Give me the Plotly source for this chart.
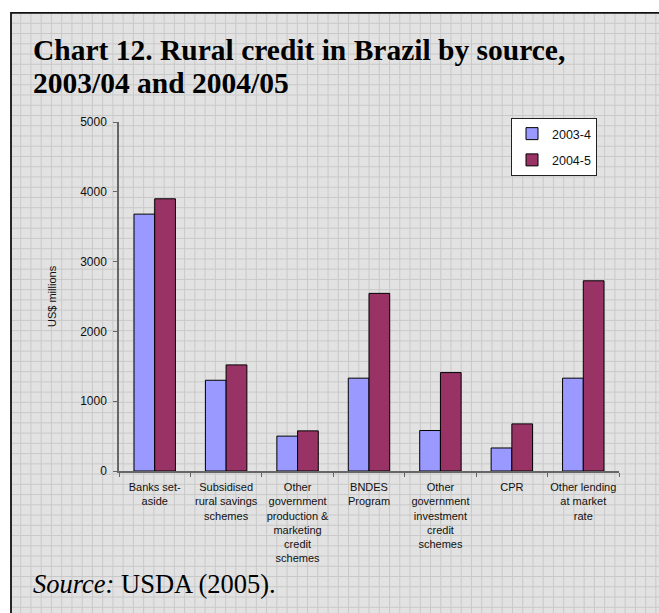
import plotly.graph_objects as go

categories = [
    "Banks set-<br>aside",
    "Subsidised<br>rural savings<br>schemes",
    "Other<br>government<br>production &<br>marketing<br>credit<br>schemes",
    "BNDES<br>Program",
    "Other<br>government<br>investment<br>credit<br>schemes",
    "CPR",
    "Other lending<br>at market<br>rate",
]
series_names = ["2003-4", "2004-5"]
values_2003_4 = [3680, 1300, 500, 1330, 580, 330, 1330]
values_2004_5 = [3900, 1520, 575, 2545, 1410, 675, 2725]
y_ticks = [0, 1000, 2000, 3000, 4000, 5000]

W, H = 659, 613
L, R, T, B = 119, 40, 122, 142
PW, PH = W - L - R, H - T - B

def px(x):
    return (x - L) / PW

def py(y):
    return (H - B - y) / PH

fig = go.Figure()
fig.add_trace(go.Bar(name=series_names[0], x=categories, y=values_2003_4,
                     marker=dict(color="#9999FF", line=dict(color="#000000", width=1)),
                     legendgroup="a"))
fig.add_trace(go.Bar(name=series_names[1], x=categories, y=values_2004_5,
                     marker=dict(color="#993366", line=dict(color="#000000", width=1)),
                     legendgroup="b"))

shapes = []
shapes.append(dict(type="rect", xref="paper", yref="paper", x0=px(11), x1=px(W + 5),
                   y0=py(12.5), y1=py(H + 5), fillcolor="#e2e2e2", line=dict(width=0), layer="below"))
step = 10.245
x = 20.7
while x < W:
    shapes.append(dict(type="line", xref="paper", yref="paper", x0=px(x), x1=px(x),
                       y0=py(13.5), y1=py(H + 5), line=dict(color="#c9c9c9", width=1), layer="below"))
    x += step
y = 23.3
while y < H:
    shapes.append(dict(type="line", xref="paper", yref="paper", x0=px(12), x1=px(W + 5),
                       y0=py(y), y1=py(y), line=dict(color="#c9c9c9", width=1), layer="below"))
    y += step
shapes.append(dict(type="line", xref="paper", yref="paper", x0=px(11), x1=px(W + 5),
                   y0=py(12.8), y1=py(12.8), line=dict(color="#111111", width=1.8), layer="below"))
shapes.append(dict(type="line", xref="paper", yref="paper", x0=px(11), x1=px(11),
                   y0=py(12), y1=py(H + 5), line=dict(color="#111111", width=1.8), layer="below"))

title_font = dict(family="Liberation Serif", size=29.5, color="#000000")
annotations = [
    dict(text="<b>Chart 12. Rural credit in Brazil by source,</b>",
         xref="paper", yref="paper", x=px(31), y=py(59), xanchor="left", yanchor="bottom",
         yshift=-9, align="left", showarrow=False, font=title_font),
    dict(text="<b>2003/04 and 2004/05</b>",
         xref="paper", yref="paper", x=px(31), y=py(92), xanchor="left", yanchor="bottom",
         yshift=-9, align="left", showarrow=False, font=title_font),
    dict(text="<i>Source:</i> USDA (2005).",
         xref="paper", yref="paper", x=px(31), y=py(595), xanchor="left", yanchor="bottom",
         yshift=-6, align="left", showarrow=False,
         font=dict(family="Liberation Serif", size=26.5, color="#000000")),
    dict(text="US$ millions", textangle=-90,
         xref="paper", yref="paper", x=px(52), y=py(296), xanchor="center", yanchor="middle",
         showarrow=False, font=dict(family="Liberation Sans, Arial", size=11, color="#111111")),
]

fig.update_layout(
    width=W, height=H,
    margin=dict(l=L, r=R, t=T, b=B, autoexpand=False),
    paper_bgcolor="#ffffff",
    plot_bgcolor="rgba(0,0,0,0)",
    barmode="group", bargap=0.42, bargroupgap=0,
    font=dict(family="Liberation Sans, Arial", size=11, color="#111111"),
    shapes=shapes, annotations=annotations,
    legend=dict(x=px(511), y=py(118), xanchor="left", yanchor="top",
                bgcolor="#ffffff", bordercolor="#222222", borderwidth=1,
                font=dict(size=12.5, color="#111111"), tracegroupgap=7,
                itemwidth=30, traceorder="grouped"),
    xaxis=dict(showgrid=False, showline=True, linecolor="#666666", linewidth=1.5,
               ticks="outside", ticklen=4, tickcolor="#666666", tickson="boundaries",
               tickangle=0, ticklabelstandoff=5,
               tickfont=dict(size=11, color="#111111"), fixedrange=True),
    yaxis=dict(range=[0, 5000], tickvals=y_ticks, showgrid=False, zeroline=False,
               showline=True, linecolor="#666666", linewidth=1.5,
               ticks="outside", ticklen=4, tickcolor="#666666", ticklabelstandoff=4,
               tickfont=dict(size=12, color="#111111")),
)

fig.write_html("out.html", config={"displayModeBar": False},
               post_script="document.body.style.margin='0';document.body.style.padding='0';")
